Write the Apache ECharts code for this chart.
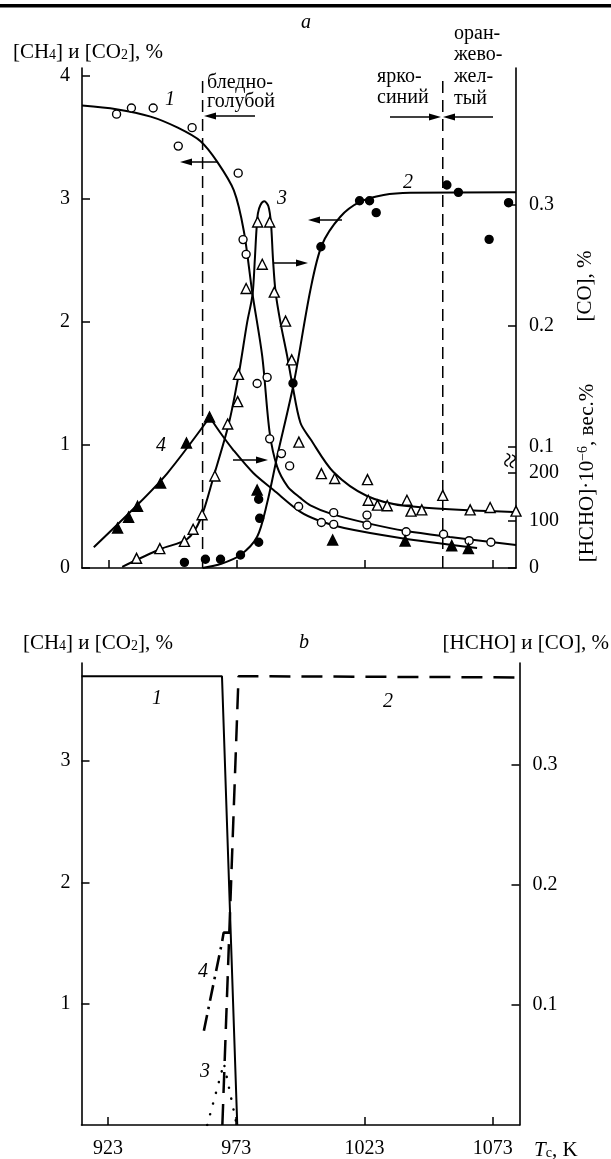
<!DOCTYPE html>
<html><head><meta charset="utf-8">
<script src="https://cdn.jsdelivr.net/npm/echarts@6/dist/echarts.min.js"></script>
<style>html,body{margin:0;padding:0;background:#fff}#c{width:611px;height:1159px}</style>
</head><body><div id="c"></div>
<script>
// ---------------- data ----------------
const tickTemps = [923, 973, 1023, 1073];
const leftTicksA = [0, 1, 2, 3, 4];
const coTicksA = [0.1, 0.2, 0.3];
const hchoTicksA = [0, 100, 200];
const leftTicksB = [1, 2, 3];
const rightTicksB = [0.1, 0.2, 0.3];
const colorBoundaries = [959.7, 1053.5];
const boundaryTop = 3.98;

// panel a: curve 1 (CH4), open circles
const ch4Points = [[926.1,3.69],[931.9,3.74],[940.4,3.74],[950.2,3.43],[955.6,3.58],[973.6,3.21],[975.5,2.67],[976.7,2.55],[981.0,1.50],[984.9,1.55],[985.9,1.05],[990.5,0.93],[993.7,0.83],[997.2,0.50],[1006.1,0.37],[1010.9,0.45],[1010.9,0.355],[1023.9,0.43],[1023.9,0.35],[1039.2,0.295],[1053.8,0.274],[1063.8,0.222],[1072.3,0.209]];
const ch4Curve = [[912.6,3.76],[926,3.73],[939.4,3.67],[950,3.58],[958.9,3.47],[965.5,3.30],[971.9,3.07],[975.8,2.74],[979.1,2.24],[983.0,1.72],[985.9,1.10],[988.8,0.824],[993,0.66],[997.9,0.57],[1001.8,0.51],[1010,0.44],[1023.9,0.365],[1039.2,0.30],[1056.3,0.252],[1082.1,0.187]];

// panel a: curve 2 (CO2), filled circles
const co2Points = [[952.6,0.046],[960.8,0.071],[966.7,0.071],[974.5,0.106],[981.6,0.209],[982.0,0.404],[981.6,0.559],[995.0,1.502],[1005.9,2.612],[1021.0,2.986],[1024.9,2.986],[1027.5,2.889],[1055.1,3.114],[1059.6,3.054],[1071.6,2.672],[1079.2,2.970]];
const co2Curve = [[959.7,0],[967,0.035],[974.5,0.106],[981.0,0.254],[984.9,0.528],[988.8,0.905],[995.3,1.502],[1001.8,2.26],[1006.3,2.626],[1013.5,2.856],[1021.3,2.978],[1030.4,3.033],[1040.8,3.051],[1082.1,3.054]];

// panel a: curve 3 (CO, right axis), open triangles
const coPoints = [[933.9,0.008],[943.0,0.016],[952.6,0.022],[956.0,0.032],[959.5,0.044],[964.5,0.076],[969.5,0.119],[973.4,0.1375],[973.7,0.160],[976.7,0.231],[981.2,0.286],[983.0,0.251],[985.9,0.286],[987.7,0.228],[992.1,0.204],[994.5,0.172],[997.3,0.104],[1006.1,0.078],[1011.3,0.074],[1024.1,0.073],[1024.4,0.056],[1028.0,0.052],[1031.8,0.0515],[1039.5,0.056],[1041.1,0.047],[1045.3,0.048],[1053.5,0.060],[1064.2,0.048],[1072.0,0.050],[1082.1,0.047]];
const coCurve = [[928.3,0.001],[943.3,0.0157],[953.7,0.024],[958.9,0.0405],[964.1,0.0763],[969.9,0.119],[973.8,0.160],[977.1,0.203],[979.2,0.226],[980.1,0.255],[980.7,0.278],[981.3,0.293],[982.3,0.300],[983.8,0.303],[985.4,0.299],[986.4,0.285],[987.2,0.255],[988.2,0.228],[990.1,0.203],[992.7,0.1755],[994.6,0.1535],[997.9,0.120],[1001.8,0.1066],[1010.8,0.0793],[1023.9,0.0595],[1039.5,0.0512],[1081.0,0.0463]];

// panel a: curve 4 (HCHO, lower right axis), filled triangles
const hchoPoints = [[926.5,84],[930.8,107],[934.3,130],[943.3,179],[953.4,263],[962.4,318],[981.0,164],[1010.5,59],[1038.8,57],[1057.0,47],[1063.5,41]];
const hchoRise = [[917.2,43.6],[932.9,125.7],[945.9,199.4],[962.5,317.3]];
const hchoFall = [[962.5,317.3],[966.7,284.2],[971.7,248.4],[979.5,200.0],[987.4,164.2],[997.9,118],[1005,100],[1015,84],[1036.9,63.2],[1066.9,42.1]];

// panel b: model curves
const ch4ModelB = [[912.7,3.70],[967.45,3.70],[973.4,0]];
const co2ModelB = [[967.6,0],[973.9,3.70],[1083.4,3.69]];
const coModelB = [[961.7,0],[968.2,0.0514],[973.2,0]];
const hchoModelB = [[960.4,0.0786],[967.5,0.1528],[968.1,0.1603],[970.6,0.1603]];

// ---------------- chart ----------------
const FF = 'Liberation Serif';
const BLK = '#000';
const TICK_FS = 20;
const plain = v => String(v);

function valAxis(o) {
  return Object.assign({
    type: 'value', splitLine: {show: false},
    axisLine: {show: true, onZero: false, lineStyle: {color: BLK, width: 1.6}},
    axisTick: {show: true, inside: true, length: 8, lineStyle: {color: BLK, width: 1.5}},
    axisLabel: {show: true, color: BLK, fontFamily: FF, fontSize: TICK_FS, margin: 11, formatter: plain}
  }, o);
}
function ticks(vals) { return {show: true, inside: true, length: 8, customValues: vals, lineStyle: {color: BLK, width: 1.5}}; }
function labels(vals, margin) { return {show: true, customValues: vals, color: BLK, fontFamily: FF, fontSize: TICK_FS, margin: margin, formatter: plain}; }

function arrow(x1, y1, x2, y2) {
  const dx = x2 - x1, dy = y2 - y1, L = Math.hypot(dx, dy), ux = dx / L, uy = dy / L;
  const hl = 12, hw = 3.5, bx = x2 - ux * hl, by = y2 - uy * hl;
  return [
    {type: 'line', z: 100, shape: {x1: x1, y1: y1, x2: bx, y2: by}, style: {stroke: BLK, lineWidth: 1.5}},
    {type: 'polygon', z: 100, shape: {points: [[x2, y2], [bx - uy * hw, by + ux * hw], [bx + uy * hw, by - ux * hw]]}, style: {fill: BLK}}
  ];
}
function txt(x, y, text, o) {
  return {type: 'text', z: 100, x: x, y: y, rotation: (o && o.rot) || 0,
    style: Object.assign({text: text, fill: BLK, fontFamily: FF, fontSize: 20, align: 'center', verticalAlign: 'middle'}, o && o.style)};
}
const subStyle = {fontFamily: FF, fontSize: 14, fill: BLK, verticalAlign: 'bottom', lineHeight: 10};
const supStyle = {fontFamily: FF, fontSize: 14, fill: BLK, verticalAlign: 'top', lineHeight: 10};
const richBase = {sub: subStyle, sup: supStyle, it: {fontFamily: FF, fontSize: 21, fill: BLK, fontStyle: 'italic'}};

function lineSer(data, xi, yi, style, extra) {
  return Object.assign({type: 'line', data: data, xAxisIndex: xi, yAxisIndex: yi, showSymbol: false, symbol: 'none',
    smooth: 0.3, lineStyle: Object.assign({color: BLK, width: 2}, style), z: 3, silent: true}, extra);
}
function scatSer(data, xi, yi, symbol, filled, size) {
  return {type: 'scatter', data: data, xAxisIndex: xi, yAxisIndex: yi, symbol: symbol, symbolSize: size, z: 5, silent: true,
    itemStyle: {color: filled ? BLK : '#fff', borderColor: BLK, borderWidth: 1.4, opacity: 1}};
}
function vline(t) { return [[t, 0], [t, boundaryTop]]; }

const graphics = [].concat(
  [{type: 'rect', z: 100, shape: {x: 0, y: 4, width: 611, height: 3.5}, style: {fill: BLK}}],
  [txt(306, 23, 'a', {style: {fontStyle: 'italic'}})],
  [txt(163, 52, '[CH{sub|4}] и [CO{sub|2}], %', {style: {align: 'right', fontSize: 21, rich: richBase}})],
  [txt(207, 73.5, 'бледно-\nголубой', {style: {align: 'left', verticalAlign: 'top', lineHeight: 19}})],
  [txt(377, 66.4, 'ярко-\nсиний', {style: {align: 'left', verticalAlign: 'top', lineHeight: 20.6}})],
  [txt(454, 22.5, 'оран-\nжево-\nжел-\nтый', {style: {align: 'left', verticalAlign: 'top', lineHeight: 21.7}})],
  arrow(255, 116, 204, 116),
  arrow(390, 117, 441, 117),
  arrow(493, 117, 443, 117),
  arrow(217, 162, 180, 162),
  arrow(273, 263, 308, 263),
  arrow(342, 220, 308, 220),
  arrow(233, 460, 268, 460),
  [txt(170, 100, '1', {style: {fontStyle: 'italic'}})],
  [txt(408, 183, '2', {style: {fontStyle: 'italic'}})],
  [txt(282, 199, '3', {style: {fontStyle: 'italic'}})],
  [txt(161, 446, '4', {style: {fontStyle: 'italic'}})],
  [txt(585, 286, '[CO], %', {rot: Math.PI / 2, style: {fontSize: 21}})],
  [txt(587, 473, '[HCHO]·10{sup|−6}, вес.%', {rot: Math.PI / 2, style: {fontSize: 21, rich: richBase}})],
  [txt(512, 461, '≈', {rot: Math.PI / 2.4, style: {fontSize: 28}})],
  // panel b
  [txt(173, 643, '[CH{sub|4}] и [CO{sub|2}], %', {style: {align: 'right', fontSize: 21, rich: richBase}})],
  [txt(304, 643, 'b', {style: {fontStyle: 'italic'}})],
  [txt(609, 643, '[HCHO] и [CO], %', {style: {align: 'right', fontSize: 21}})],
  [txt(157, 699, '1', {style: {fontStyle: 'italic'}})],
  [txt(388, 702, '2', {style: {fontStyle: 'italic'}})],
  [txt(205, 1072, '3', {style: {fontStyle: 'italic'}})],
  [txt(203, 972, '4', {style: {fontStyle: 'italic'}})],
  [txt(534, 1150, '{it|T}{sub|c}, K', {style: {align: 'left', fontSize: 21, rich: richBase}})]
);

const option = {
  animation: false,
  backgroundColor: '#fff',
  grid: [
    {left: 82, top: 68, width: 434, height: 500, containLabel: false, outerBoundsMode: 'none'},
    {left: 81.5, top: 663, width: 438, height: 462, containLabel: false, outerBoundsMode: 'none'}
  ],
  xAxis: [
    valAxis({gridIndex: 0, min: 912.6, max: 1082.1, axisTick: ticks(tickTemps), axisLabel: {show: false}}),
    valAxis({gridIndex: 1, min: 912.7, max: 1083.4, axisTick: ticks(tickTemps), axisLabel: labels(tickTemps, 14)})
  ],
  yAxis: [
    valAxis({gridIndex: 0, position: 'left', min: 0, max: 500 / 123, axisTick: ticks(leftTicksA), axisLabel: labels(leftTicksA, 12)}),
    valAxis({gridIndex: 0, position: 'right', min: 0, max: 500 / 1210, axisTick: ticks(coTicksA), axisLabel: labels(coTicksA, 13)}),
    valAxis({gridIndex: 0, position: 'right', min: 0, max: 50000 / 47.5, axisLine: {show: false},
      axisTick: ticks(hchoTicksA), axisLabel: labels(hchoTicksA, 13)}),
    valAxis({gridIndex: 1, position: 'left', min: 0, max: 462 / 121.3, axisTick: ticks(leftTicksB), axisLabel: labels(leftTicksB, 11)}),
    valAxis({gridIndex: 1, position: 'right', min: 0, max: 0.385, axisTick: ticks(rightTicksB), axisLabel: labels(rightTicksB, 13)})
  ],
  series: [
    lineSer(vline(colorBoundaries[0]), 0, 0, {width: 1.5, type: [12, 7]}, {smooth: false}),
    lineSer(vline(colorBoundaries[1]), 0, 0, {width: 1.5, type: [12, 7]}, {smooth: false}),
    lineSer(ch4Curve, 0, 0, {}),
    lineSer(co2Curve, 0, 0, {}),
    lineSer(coCurve, 0, 1, {}),
    lineSer(hchoRise, 0, 2, {}),
    lineSer(hchoFall, 0, 2, {}),
    scatSer(ch4Points, 0, 0, 'circle', false, 8),
    scatSer(co2Points, 0, 0, 'circle', true, 8),
    scatSer(coPoints, 0, 1, 'triangle', false, 10),
    scatSer(hchoPoints, 0, 2, 'triangle', true, 10),
    // panel b
    lineSer(ch4ModelB, 1, 3, {width: 2}, {smooth: false}),
    lineSer(co2ModelB, 1, 3, {width: 2.5, type: [21, 11]}, {smooth: false}),
    lineSer(coModelB, 1, 4, {width: 2.5, type: [0.1, 11], cap: 'round'}, {smooth: false}),
    lineSer(hchoModelB, 1, 4, {width: 2.6, type: [16, 6, 2.5, 6]}, {smooth: false})
  ],
  graphic: graphics
};

const chart = echarts.init(document.getElementById('c'), null, {renderer: 'canvas'});
chart.setOption(option);
</script>
</body></html>
